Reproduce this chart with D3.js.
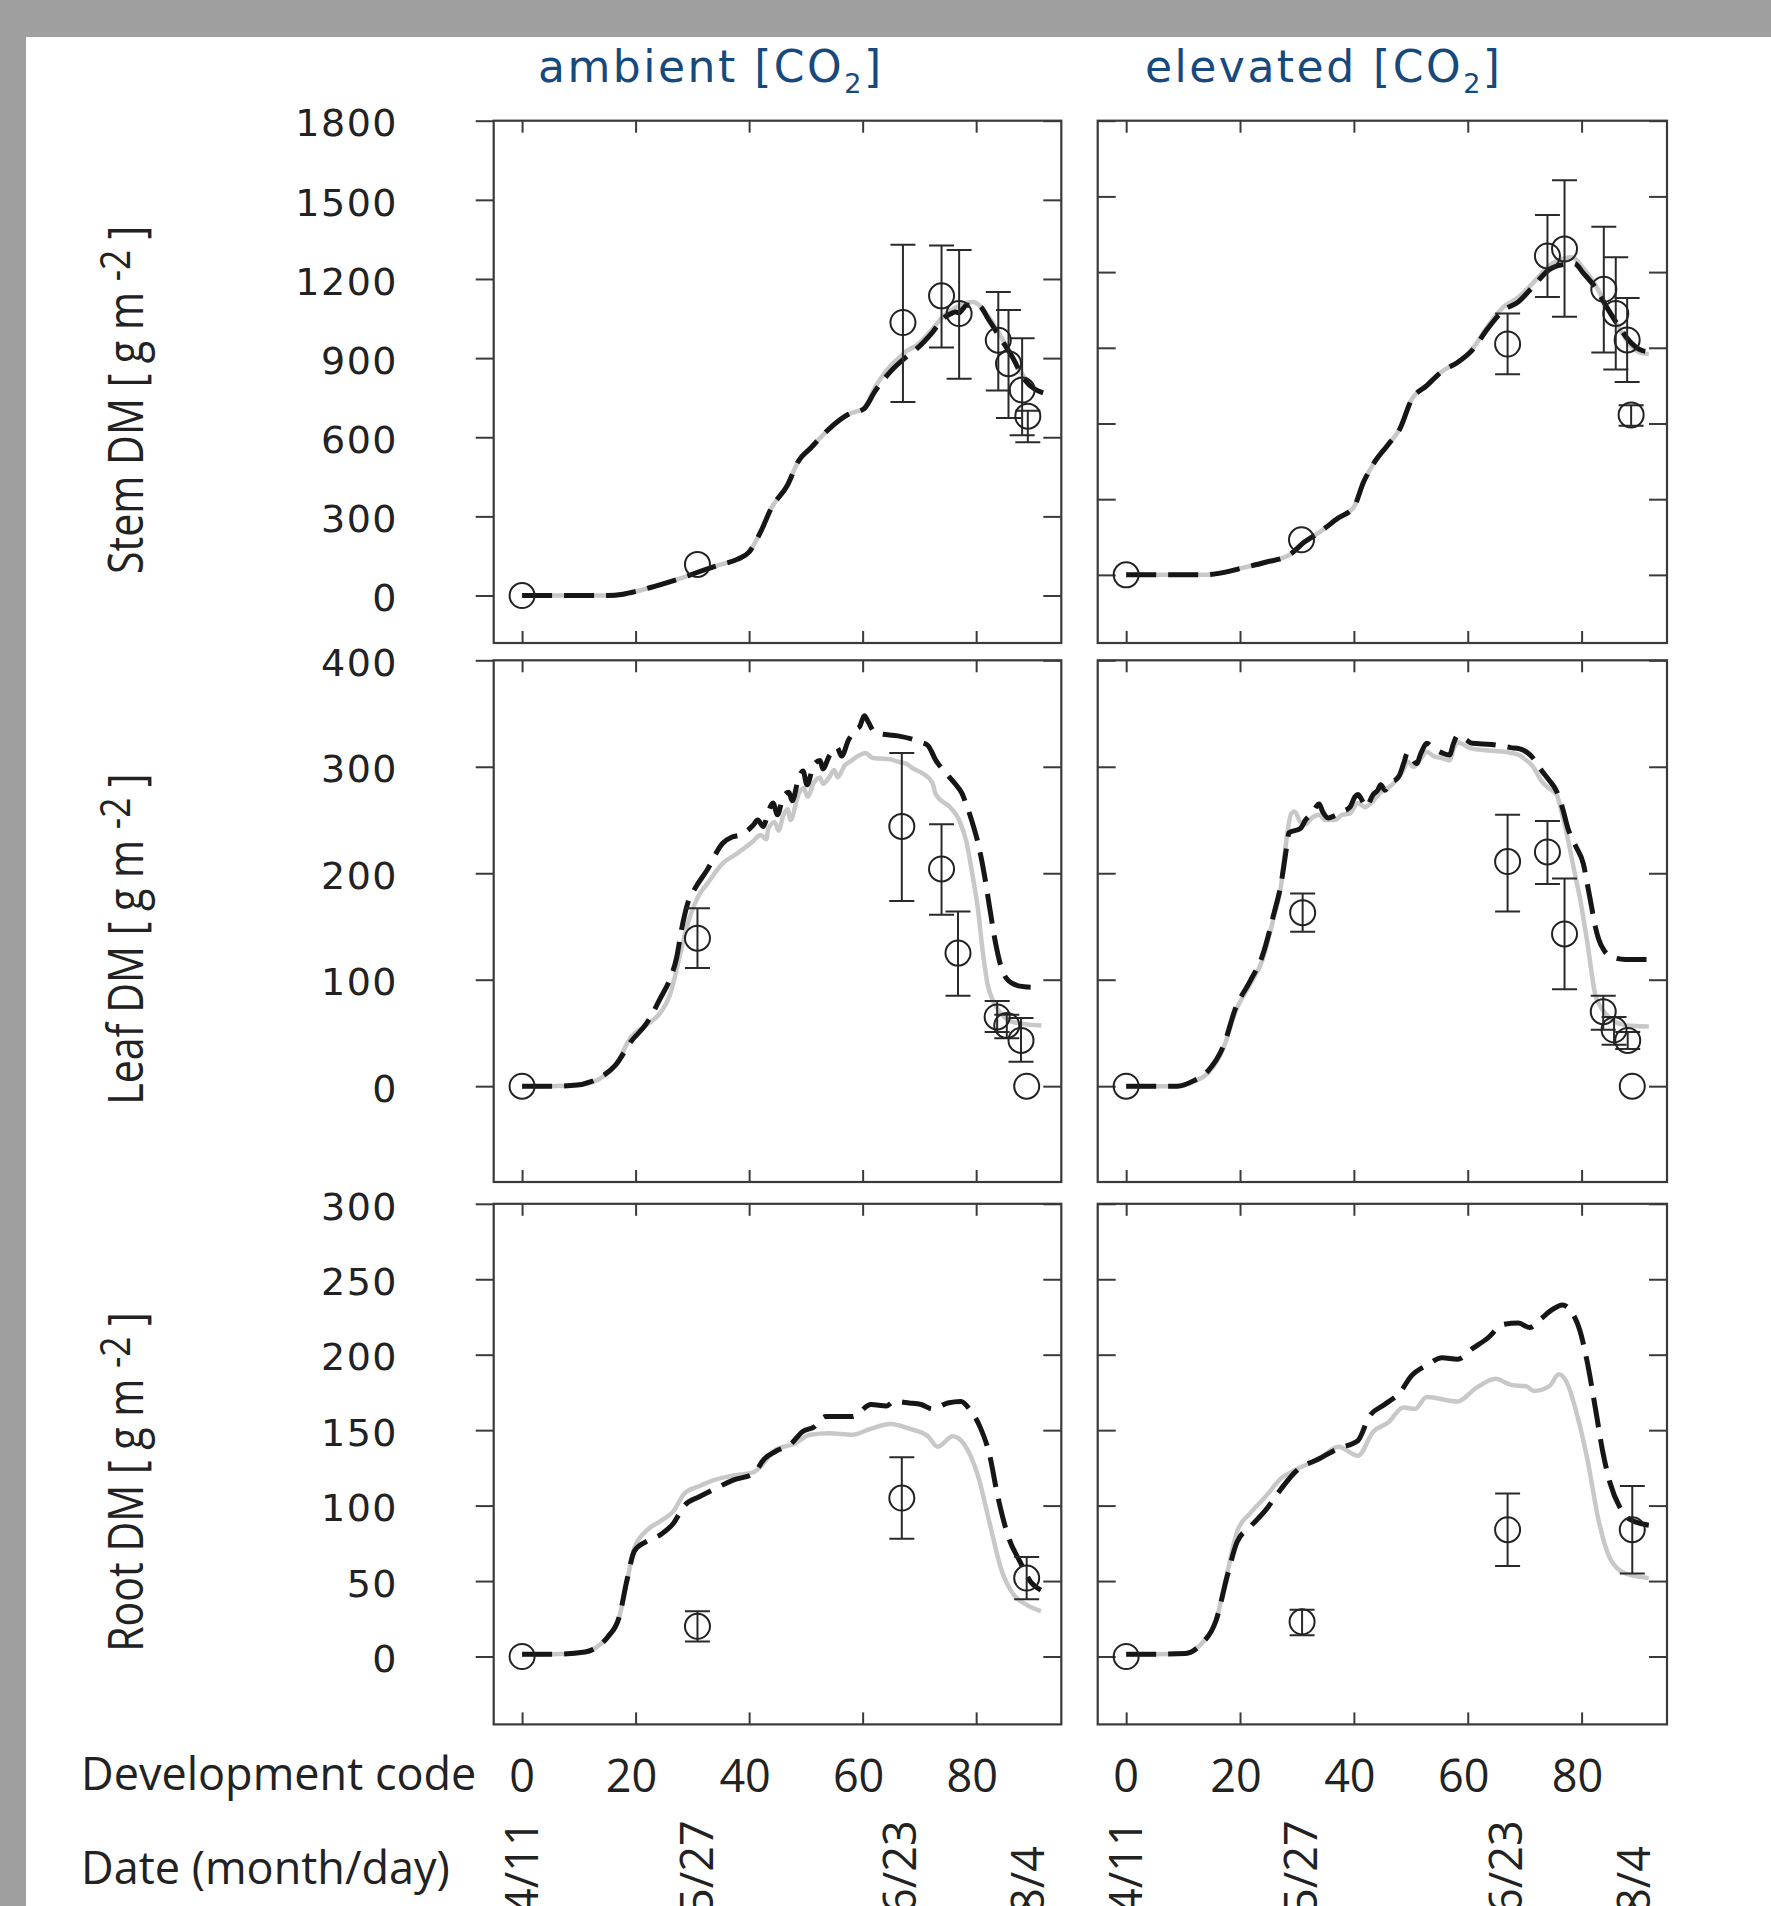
<!DOCTYPE html>
<html>
<head>
<meta charset="utf-8">
<script src="https://cdn.jsdelivr.net/npm/d3@7"></script>
<style>
  body { margin: 0; background: #9f9f9f; overflow: hidden; }
  svg { display: block; }
</style>
</head>
<body>
<div id="chart"></div>
<script>
// x axis: development code and dates
const codeTicks = [0, 20, 40, 60, 80];
const dateLabels = ["4/11", "5/27", "6/23", "8/4"];
const dateCodes = [0, 30.7, 66.6, 89.1];

// y ticks per organ
const stemTicks = [0, 300, 600, 900, 1200, 1500, 1800];
const leafTicks = [0, 100, 200, 300, 400];
const rootTicks = [0, 50, 100, 150, 200, 250, 300];

const colTitles = ["ambient", "elevated"];
const rowTitles = ["Stem DM", "Leaf DM", "Root DM"];

// simulated curves [development code, g m-2]; dash = black dashed, gray = grey solid
const stemAmbDash = [[0,0],[5,0],[10,0],[15,0],[17.8,5],[20,15],[23.2,34],[26,52],[28.6,70],[31.3,91],[34.6,115],[38,138],[40,165],[42,240],[44,335],[46.7,416],[48.7,510],[50.8,558],[54.1,632],[57.5,687],[60.2,707],[62.2,775],[64.9,849],[67.6,903],[69.6,937],[72.3,998],[74.3,1052],[75.5,1068],[76.3,1075],[77,1072],[77.6,1085],[78.3,1100],[80.3,1100],[82.4,1039],[84.4,971],[86.4,903],[88.4,822],[90.4,781],[91.8,768]];
const stemAmbGray = [[0,0],[5,0],[10,0],[15,0],[17.8,5],[20,15],[23.2,34],[26,52],[28.6,70],[31.3,91],[34.6,115],[38,138],[40,165],[42,240],[44,335],[46.7,416],[48.7,510],[50.8,558],[54.1,632],[57.5,687],[60.2,710],[62.2,790],[64.9,870],[66.5,903],[67.6,925],[69.6,950],[72.3,1010],[74.3,1060],[76.3,1090],[78.3,1110],[79.5,1113],[80.3,1105],[82.4,1050],[84.4,980],[86.4,905],[88.4,830],[90.4,785],[91.8,770]];
const stemEleDash = [[0,0],[5,0],[10,0],[13.8,0],[16.5,7],[20.5,28],[24.5,50],[28.6,78],[31.3,130],[34,170],[37.3,226],[40,269],[41.7,368],[43.4,439],[46,516],[48.1,580],[50.1,693],[52.8,750],[55.5,807],[58.2,842],[60.8,891],[63.5,976],[66.2,1047],[68.9,1082],[71.6,1146],[74.3,1210],[77,1231],[78.7,1234],[80.3,1196],[82.4,1139],[84.4,1061],[86.4,990],[88.4,927],[90.4,891],[91.8,884]];
const stemEleGray = [[0,0],[5,0],[10,0],[13.8,0],[16.5,7],[20.5,28],[24.5,50],[28.6,78],[31.3,130],[34,170],[37.3,226],[40,269],[41.7,368],[43.4,439],[46,516],[48.1,580],[50.1,693],[52.8,750],[55.5,807],[58.2,842],[60.8,895],[63.5,985],[66.2,1060],[68.9,1100],[71.6,1160],[74.3,1225],[77,1255],[78.3,1259],[80.3,1215],[82.4,1150],[84.4,1065],[86.4,985],[88.4,915],[90.4,880],[91.8,875]];

const leafAmbDash = [[0,0],[5,0],[9.7,1],[12,4],[14,9],[16.5,20],[19.2,42],[21.8,58],[24.5,84],[26,100],[27.2,120],[28.2,150],[29.2,172],[30.5,186],[32.6,203],[35.3,228],[37,234],[38.5,236],[40.7,245],[41.5,250],[42.5,244],[43.4,258],[44.2,266],[45,255],[46,272],[47,276],[47.6,268],[48.7,289],[49.5,296],[50.2,283],[51.4,302],[52.5,306],[53,298],[54.1,310],[55.5,318],[56.3,310],[57.5,325],[58.8,335],[59.5,338],[60.3,348],[61,342],[62,333],[63,331],[66.2,329],[70.3,323],[71.5,320],[72.9,306],[74.5,295],[76.3,284],[77.5,275],[78.3,264],[79.3,248],[80.3,229],[81.4,200],[82.4,167],[83.4,135],[84.4,112],[85.7,99],[87.7,94],[89.6,93]];
const leafAmbGray = [[0,0],[5,0],[9.7,1],[12,3],[14,8],[16.5,20],[19.2,46],[21.8,57],[24.5,70],[26,85],[27.2,109],[28.6,141],[29.9,164],[31,178],[32.6,190],[35.3,209],[38,219],[40.7,230],[42,236],[43,232],[43.4,242],[44.5,248],[45.2,240],[46,254],[46.8,260],[47.3,250],[48.7,274],[49.6,280],[50.3,272],[51.4,285],[52.5,290],[53,284],[54.1,290],[55,297],[55.6,290],[56.8,301],[57.8,305],[59.5,311],[60.5,313],[61.5,309],[62.2,308],[64.9,307],[66,305],[67.6,303],[69,298],[70.8,293],[72.3,285],[72.9,274],[75.6,261],[77,250],[78.3,229],[79.3,200],[80.3,167],[81.2,125],[82,96],[83,80],[83.7,73],[85.7,62],[87.7,59],[91.5,57]];
const leafEleDash = [[0,0],[9,0],[11.8,5],[14.5,15],[17.1,38],[19.2,73],[21.8,99],[23.9,122],[25.9,161],[27.2,190],[28.2,225],[28.6,238],[30.6,242],[31.5,250],[32.6,256],[33.9,265],[34.5,258],[35.5,252],[36.6,254],[38,258],[39.3,262],[40.2,272],[40.7,274],[41.5,268],[42.2,262],[43,270],[43.4,274],[44.2,278],[44.7,283],[45.5,278],[46.3,285],[47.4,288],[48,292],[48.8,304],[49.4,313],[50.2,308],[51,303],[51.8,313],[52.8,322],[53.8,318],[55.5,313],[56.8,311],[57.5,322],[58.2,329],[59.5,326],[60.8,322],[64.2,321],[67.6,318],[69,317],[70.3,314],[71.5,308],[72.9,297],[74.2,288],[75.6,277],[76.6,262],[77.6,242],[79,225],[80.3,209],[81,190],[81.7,170],[82.4,150],[83,138],[84,127],[85,122],[87.7,119],[91.8,119]];
const leafEleGray = [[0,0],[9,0],[11.8,4],[14.5,13],[17.1,36],[19.2,70],[21.8,96],[23.9,118],[25.9,158],[27.2,188],[28,225],[29,256],[29.6,258],[30.6,248],[31.5,246],[32.6,252],[33.9,255],[35,250],[36.6,250],[38,255],[39.3,256],[40.7,266],[42,262],[43.4,268],[44.7,276],[46,280],[47.4,287],[48.8,298],[49.4,305],[50.5,300],[51.8,308],[52.8,314],[54,310],[55.5,308],[56.8,306],[57.6,318],[58.2,323],[59.5,320],[60.8,317],[64.2,315],[67.6,313],[69,311],[70.3,306],[71.5,300],[72.9,287],[74.2,280],[75.6,274],[76.6,255],[77.6,232],[78.6,205],[79.7,177],[81,135],[82.4,86],[83.4,74],[84.4,67],[86,60],[88,57],[91.8,56]];

const rootAmbDash = [[0,1.5],[5,1.5],[11.1,3],[13.1,6],[15.1,13],[17.1,26],[18.5,51],[19.8,70],[21.8,76],[24.5,81],[26.6,88],[28.6,100],[31.3,106],[33.9,111],[37.3,117],[40.7,121],[42.7,131],[44.7,136],[47.4,141],[49.4,149],[51.4,152],[53.5,159],[58.2,159],[61.5,167],[64.2,166],[65.5,169],[68.2,168],[70.3,167],[72.3,164],[75,168],[77.3,169],[79,163],[80.7,152],[82.4,133],[83.7,108],[85.7,79],[87.7,63],[89.7,49],[91.4,44]];
const rootAmbGray = [[0,1.5],[5,1.5],[11.1,3],[13.1,6],[15.1,13],[17.1,26],[18.5,50],[19.8,72],[21.8,83],[24.5,90],[26.6,96],[28.6,108],[31.3,113],[33.9,117],[37.3,120],[40.7,122],[44.7,137],[48,141],[50.7,147],[54.1,148],[58.2,147],[61.5,151],[64.9,154],[68.2,151],[71.5,146],[73.2,139],[75.9,146],[78,140],[80.3,120],[82.4,88],[84.4,58],[86.4,42],[89,34],[91.4,30]];
const rootEleDash = [[0,1.5],[5,1.5],[10.4,2],[13.1,8],[15.8,24],[17.8,54],[19.5,76],[21.8,86],[24.5,97],[27.2,111],[29.9,123],[33.9,131],[37.3,138],[40.7,143],[42.7,159],[45.4,167],[48.1,175],[50.1,186],[52.8,193],[55.5,198],[58.2,197],[60.8,204],[63.5,211],[66.2,220],[68.9,221],[70.9,218],[72.9,224],[74.9,230],[76.6,233],[78.3,228],[79.7,216],[81,195],[82.4,165],[83.7,136],[85,115],[86.7,99],[88.4,91],[91.8,87]];
const rootEleGray = [[0,1.5],[5,1.5],[10.4,2],[13.1,8],[15.8,24],[17.8,56],[19.5,83],[21.8,95],[24.5,106],[27.2,118],[29.9,124],[33.9,131],[37.3,139],[40.7,133],[43.4,149],[46,155],[48.7,165],[50.7,164],[52.8,172],[58.2,169],[61.5,178],[64.9,184],[67.6,180],[70.3,179],[71.6,176],[74.3,179],[76,187],[77.6,180],[79,163],[81,131],[83,90],[85,65],[87.7,55],[91.8,52]];

// observations [development code, mean, lower, upper]
const stemAmbObs = [[0,0],[30.9,118],[67.1,1035,734,1330],[73.9,1136,940,1327],[77,1069,822,1310],[83.9,968,777,1151],[85.7,879,673,1082],[88.1,779,608,975],[89.1,680,581,700]];
const stemEleObs = [[0,0],[30.8,139],[67,915,795,1036],[74,1264,1101,1426],[77,1292,1023,1564],[83.9,1132,881,1380],[86,1036,814,1259],[88,931,764,1097],[88.7,634,591,672]];
const leafAmbObs = [[0,0],[30.9,139,111,167],[66.9,244,174,313],[73.9,204,161,246],[76.8,125,85,164],[83.7,65,51,80],[85.4,57,45,67],[87.9,43,23,64],[88.9,0]];
const leafEleObs = [[0,0],[31,163,145,181],[67,211,164,255],[74,220,190,249],[77,143,91,195],[83.8,70,53,85],[85.7,53,39,65],[88.1,43,35,51],[88.9,0]];
const rootAmbObs = [[0,0],[30.9,20,10,30],[66.9,105,78,132],[88.9,52,38,66]];
const rootEleObs = [[0,0],[30.9,23,14,31],[67,84,60,108],[88.9,84,55,113]];

// layout
const W = 1771, H = 1906;
const codeDomain = [-5, 95];
const frameColor = "#3a3a3a";
const cols = [
    { x0: 493.7, x1: 1061.3, labels: true, titleX: 538 },
    { x0: 1097.7, x1: 1667, labels: false, titleX: 1145 }
];
const rows = [
    { y0: 120.7, y1: 643, ticks: stemTicks },
    { y0: 660.3, y1: 1182, ticks: leafTicks },
    { y0: 1203.8, y1: 1724.4, ticks: rootTicks }
];
const panels = [
    { col: 0, row: 0, dom: [-180, 1800], dash: stemAmbDash, gray: stemAmbGray, obs: stemAmbObs },
    { col: 1, row: 0, dom: [-270, 1800], dash: stemEleDash, gray: stemEleGray, obs: stemEleObs },
    { col: 0, row: 1, dom: [-90, 400], dash: leafAmbDash, gray: leafAmbGray, obs: leafAmbObs },
    { col: 1, row: 1, dom: [-90, 400], dash: leafEleDash, gray: leafEleGray, obs: leafEleObs },
    { col: 0, row: 2, dom: [-45, 300], dash: rootAmbDash, gray: rootAmbGray, obs: rootAmbObs },
    { col: 1, row: 2, dom: [-45, 300], dash: rootEleDash, gray: rootEleGray, obs: rootEleObs }
];

const svg = d3.select("#chart").append("svg")
    .attr("width", W)
    .attr("height", H);

svg.append("rect").attr("width", W).attr("height", H).attr("fill", "#9f9f9f");
svg.append("rect").attr("x", 26).attr("y", 37).attr("width", W - 26).attr("height", H - 37).attr("fill", "#fff");

panels.forEach(drawPanel);

function drawPanel(p) {
    const c = cols[p.col], r = rows[p.row];
    const x = d3.scaleLinear().domain(codeDomain).range([c.x0, c.x1]);
    const y = d3.scaleLinear().domain(p.dom).range([r.y1, r.y0]);
    const g = svg.append("g");

    // ticks, all inside except the left side of the ambient column
    g.append("g").attr("transform", `translate(0,${r.y0})`)
        .call(d3.axisBottom(x).tickValues(codeTicks).tickSize(12).tickFormat(""));
    g.append("g").attr("transform", `translate(0,${r.y1})`)
        .call(d3.axisTop(x).tickValues(codeTicks).tickSize(12).tickFormat(""));
    const left = c.labels
        ? d3.axisLeft(y).tickValues(r.ticks).tickSize(18).tickPadding(c.x0 - 18 - 398).tickFormat(d3.format("d"))
        : d3.axisRight(y).tickValues(r.ticks).tickSize(18).tickFormat("");
    g.append("g").attr("class", "yleft").attr("transform", `translate(${c.x0},0)`).call(left);
    g.append("g").attr("transform", `translate(${c.x1},0)`)
        .call(d3.axisLeft(y).tickValues(r.ticks).tickSize(18).tickFormat(""));

    g.selectAll(".domain").remove();
    g.selectAll(".tick line").attr("stroke", frameColor).attr("stroke-width", 2);
    g.selectAll(".yleft")
        .attr("font-family", "'DejaVu Sans', Verdana, sans-serif")
        .attr("font-size", 38)
        .attr("letter-spacing", 1.5);
    g.selectAll(".yleft text").attr("fill", "#222").attr("dy", "0.4em");

    g.append("rect")
        .attr("x", c.x0).attr("y", r.y0)
        .attr("width", c.x1 - c.x0).attr("height", r.y1 - r.y0)
        .attr("fill", "none").attr("stroke", frameColor).attr("stroke-width", 2.2);

    const line = d3.line()
        .x(d => x(d[0]))
        .y(d => y(d[1]))
        .curve(d3.curveMonotoneX);

    g.append("path").datum(p.gray)
        .attr("d", line).attr("fill", "none")
        .attr("stroke", "#c8c8c8").attr("stroke-width", 4.5);
    g.append("path").datum(p.dash)
        .attr("d", line).attr("fill", "none")
        .attr("stroke", "#161616").attr("stroke-width", 5)
        .attr("stroke-dasharray", "30,12");

    // error bars
    const bars = p.obs.filter(d => d.length > 2);
    g.selectAll(".bar").data(bars).enter().append("path")
        .attr("d", d => {
            const cx = x(d[0]), lo = y(d[2]), hi = y(d[3]);
            return `M${cx - 12.5},${hi}H${cx + 12.5}M${cx},${hi}V${lo}M${cx - 12.5},${lo}H${cx + 12.5}`;
        })
        .attr("fill", "none").attr("stroke", "#2a2a2a").attr("stroke-width", 2);

    g.selectAll(".obs").data(p.obs).enter().append("circle")
        .attr("cx", d => x(d[0]))
        .attr("cy", d => y(d[1]))
        .attr("r", 12.5)
        .attr("fill", "none")
        .attr("stroke", "#222").attr("stroke-width", 2);
}

// column titles
colTitles.forEach((t, i) => {
    const tx = svg.append("text")
        .attr("x", cols[i].titleX).attr("y", 82)
        .attr("font-family", "'DejaVu Sans', Verdana, sans-serif")
        .attr("font-size", 44)
        .attr("letter-spacing", 2.5)
        .attr("fill", "#174a7c");
    tx.append("tspan").text(t + " [CO");
    tx.append("tspan").attr("font-size", 27).attr("dy", 11).text("2");
    tx.append("tspan").attr("dy", -11).text("]");
});

// row titles
rowTitles.forEach((t, i) => {
    const cy = (rows[i].y0 + rows[i].y1) / 2 + 18;
    const tx = svg.append("text")
        .attr("transform", `translate(143,${cy}) rotate(-90) scale(0.84,1)`)
        .attr("text-anchor", "middle")
        .attr("font-family", "'Open Sans', sans-serif")
        .attr("font-size", 49)
        .attr("fill", "#222")
        .style("white-space", "pre");
    tx.append("tspan").text(t + " [ g m ");
    tx.append("tspan").attr("font-size", 42).attr("dy", -13).text("-2");
    tx.append("tspan").attr("dy", 13).text(" ]");
});

// bottom labels
const bottomFont = "'Open Sans', sans-serif";
svg.append("text").attr("x", 81).attr("y", 1790)
    .attr("font-family", bottomFont).attr("font-size", 45).attr("fill", "#222")
    .text("Development code");
svg.append("text").attr("x", 81).attr("y", 1884)
    .attr("font-family", bottomFont).attr("font-size", 45).attr("fill", "#222")
    .text("Date (month/day)");

cols.forEach(c => {
    const x = d3.scaleLinear().domain(codeDomain).range([c.x0, c.x1]);
    svg.append("g").selectAll("text").data(codeTicks).enter().append("text")
        .attr("x", d => x(d) - (d > 0 ? 4 : 0))
        .attr("y", 1792)
        .attr("text-anchor", "middle")
        .attr("font-family", bottomFont).attr("font-size", 45).attr("fill", "#222")
        .text(d => d);
    // dates run off the bottom edge, as in the source figure
    svg.append("g").selectAll("text").data(dateLabels).enter().append("text")
        .attr("transform", (d, i) => `translate(${x(dateCodes[i])},1914) rotate(-90)`)
        .attr("dy", "0.36em")
        .attr("font-family", bottomFont).attr("font-size", 45).attr("fill", "#222")
        .text(d => d);
});
</script>
</body>
</html>
